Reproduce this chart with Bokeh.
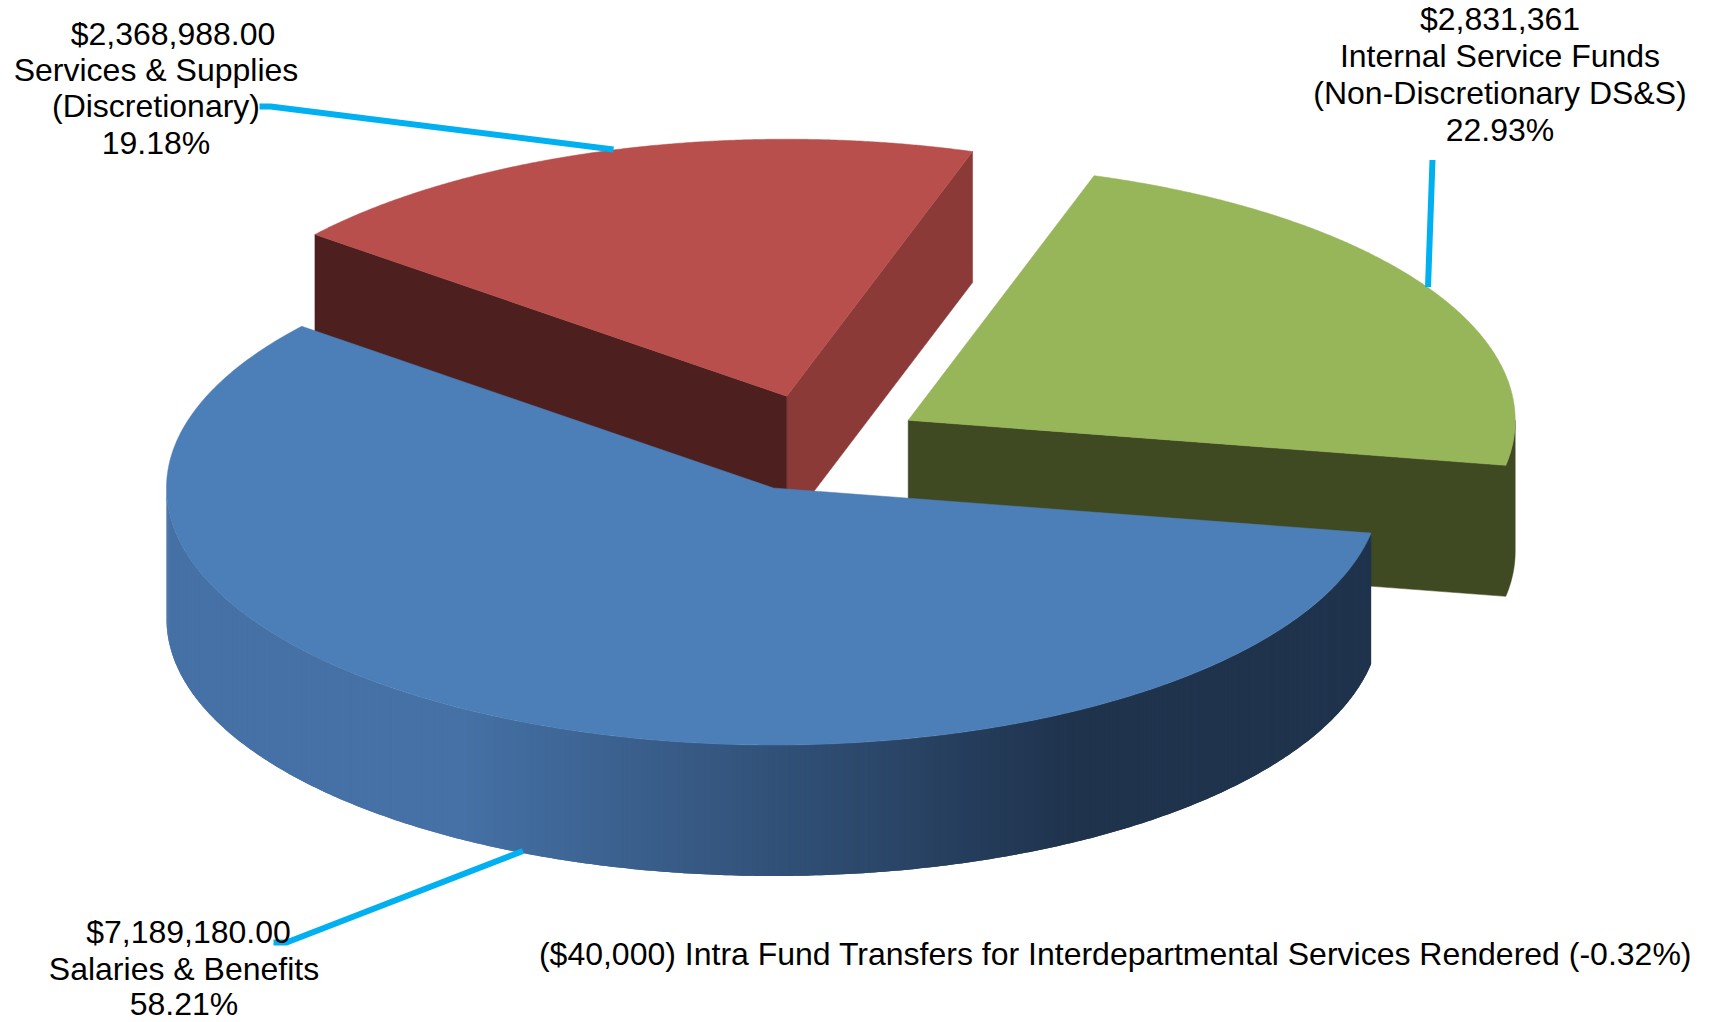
import numpy as np
from bokeh.core.properties import value
from bokeh.embed import file_html
from bokeh.models import ColumnDataSource, Range1d
from bokeh.plotting import figure
from bokeh.resources import INLINE

# Budget categories and amounts
categories = ["Salaries & Benefits", "Services & Supplies", "Internal Service Funds"]
amounts = [7189180.00, 2368988.00, 2831361.00]
percent_labels = ["58.21%", "19.18%", "22.93%"]
amount_labels = ["$7,189,180.00", "$2,368,988.00", "$2,831,361"]
extra_lines = ["(Discretionary)", "(Non-Discretionary DS&S)"]
transfer_note = "($40,000) Intra Fund Transfers for Interdepartmental Services Rendered (-0.32%)"

# Page and pie layout, in pixels
W, H = 1714, 1022
RX, RY, DEPTH = 607, 257, 131
START_ANGLE = -10.1
CENTRES = {
    "Salaries & Benefits": (773.0, 487.5),
    "Services & Supplies": (786.2, 395.7),
    "Internal Service Funds": (907.7, 419.8),
}
TOP = {"Salaries & Benefits": "#4C7EB7", "Services & Supplies": "#B94F4C", "Internal Service Funds": "#97B559"}
FONT_PX = 32.0
LEADER = "#00B0F0"

# Slice spans run clockwise from the start angle, in proportion to the amounts
spans = 360.0 * np.array(amounts) / sum(amounts)
ends = START_ANGLE - np.cumsum(spans)
starts = ends + spans
angles = {c: (s, e) for c, s, e in zip(categories, starts, ends)}


def rim(cat, theta):
    cx, cy = CENTRES[cat]
    t = np.radians(theta)
    return cx + RX * np.cos(t), cy - RY * np.sin(t)


def lerp(c0, c1, f):
    rgb = [round(a + (b - a) * f) for a, b in zip(c0, c1)]
    return "#%02x%02x%02x" % tuple(rgb)


p = figure(width=W, height=H, x_range=Range1d(0, W), y_range=Range1d(H, 0),
           output_backend="svg", toolbar_location=None, min_border=0,
           background_fill_color="white", border_fill_color="white")
p.axis.visible = False
p.grid.visible = False
p.outline_line_color = None


def flat(xs, ys, colour):
    p.patch(xs, ys, fill_color=colour, line_color=colour, line_width=0.5)


def radial_wall(cat, theta, colour):
    cx, cy = CENTRES[cat]
    x, y = rim(cat, theta)
    flat([cx, x, x, cx], [cy, y, y + DEPTH, cy + DEPTH], colour)


def top_face(cat):
    cx, cy = CENTRES[cat]
    a0, a1 = angles[cat]
    xt, yt = rim(cat, np.linspace(a0, a1, 300))
    flat(np.r_[cx, xt], np.r_[cy, yt], TOP[cat])


red, green, blue = categories[1], categories[2], categories[0]

# Red slice: its two cut faces sit behind the blue slice
radial_wall(red, angles[red][1], "#8C3A38")
radial_wall(red, angles[red][0], "#4D1F1F")
top_face(red)

# Green slice: the cut face joins the short piece of outer wall below the horizontal
gx, gy = CENTRES[green]
wx, wy = rim(green, np.linspace(angles[green][1], -360.0, 30))
flat(np.r_[gx, wx, wx[::-1], gx], np.r_[gy, wy, wy[::-1] + DEPTH, gy + DEPTH], "#3F4A22")
top_face(green)

# Blue slice: the outer wall is shaded left to right in narrow strips,
# each one drawn over the tail of the strip before it so no seams show
LIGHT_WALL, DARK_WALL = (69, 113, 166), (31, 51, 77)
GRAD_X0, GRAD_X1 = 460.0, 1070.0
STEP = 0.5
left_to_right = np.r_[np.arange(-180.0, angles[blue][0], STEP), angles[blue][0]]
strip_xs, strip_ys, strip_cols = [], [], []
for a0, a1 in zip(left_to_right[:-1], left_to_right[1:]):
    tail = min(a1 + STEP, angles[blue][0])
    sx, sy = rim(blue, np.array([a0, a1, tail]))
    f = np.clip(((sx[0] + sx[1]) / 2 - GRAD_X0) / (GRAD_X1 - GRAD_X0), 0, 1)
    strip_xs.append(list(sx) + list(sx[::-1]))
    strip_ys.append(list(sy) + list(sy[::-1] + DEPTH))
    strip_cols.append(lerp(LIGHT_WALL, DARK_WALL, f))
p.patches("xs", "ys", fill_color="cols", line_color=None,
          source=ColumnDataSource(dict(xs=strip_xs, ys=strip_ys, cols=strip_cols)))
top_face(blue)

# Leader lines
leader_paths = [
    ([259, 270, 613], [106, 106, 149]),
    ([1432, 1427.5], [159.5, 286.5]),
    ([522.5, 286, 273], [850.5, 942, 942]),
]
for xs, ys in leader_paths:
    p.line(xs, ys, line_color=LEADER, line_width=6, line_join="round")

# Text labels, one glyph per line
lines = [
    (amount_labels[1], 172.5, 33),
    (categories[1], 155.5, 69),
    (extra_lines[0], 155.5, 105),
    (percent_labels[1], 155.5, 142),
    (amount_labels[2], 1499.5, 18.7),
    (categories[2], 1499.5, 55.2),
    (extra_lines[1], 1499.5, 92.4),
    (percent_labels[2], 1499.5, 129),
    (amount_labels[0], 188, 931.5),
    (categories[0], 183.5, 968.6),
    (percent_labels[0], 183.5, 1003),
    (transfer_note, 1115, 953),
]
txt = ColumnDataSource(dict(text=[l[0] for l in lines], x=[l[1] for l in lines], y=[l[2] for l in lines]))
p.text("x", "y", text="text", source=txt, text_font=value("Liberation Sans"),
       text_font_size=f"{FONT_PX}px", text_color="#000000",
       text_align="center", text_baseline="middle")

open("out.html", "w").write(file_html(p, INLINE))
